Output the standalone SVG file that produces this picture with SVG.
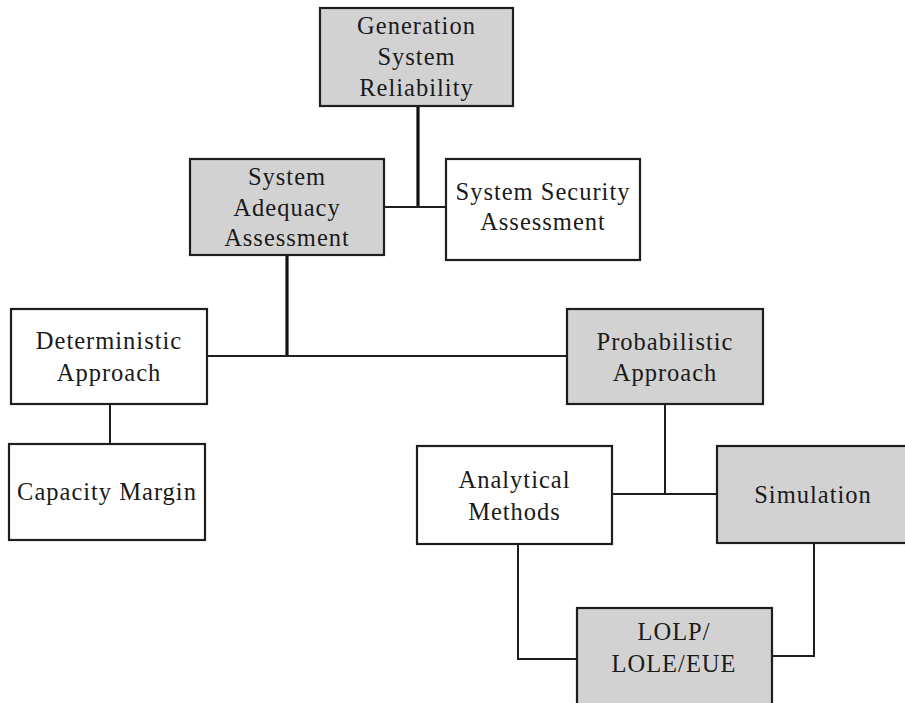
<svg xmlns="http://www.w3.org/2000/svg" width="905" height="703" viewBox="0 0 905 703">
<style>
.box{stroke:#1e1e1e;stroke-width:2.2}
.g{fill:#d3d2d3}
.w{fill:#ffffff}
text{font-family:"Liberation Serif","Times New Roman",serif;font-size:24.5px;letter-spacing:1px;fill:#1a1a1a;text-anchor:middle}
.c{fill:none;stroke:#1e1e1e;stroke-width:2}
.t{fill:none;stroke:#111;stroke-width:3.2}
</style>
<rect width="905" height="703" fill="#ffffff"/>
<g id="connectors">
<line class="t" x1="418" y1="106" x2="418" y2="208"/>
<line class="c" x1="384" y1="207" x2="446" y2="207"/>
<line class="t" x1="287" y1="255" x2="287" y2="357"/>
<line class="c" x1="207" y1="356" x2="567" y2="356"/>
<line class="c" x1="110" y1="404" x2="110" y2="444"/>
<line class="c" x1="665" y1="404" x2="665" y2="494"/>
<line class="c" x1="612" y1="494" x2="717" y2="494"/>
<polyline class="c" points="518,544 518,659 577,659"/>
<polyline class="c" points="814,543 814,656 771,656"/>
</g>
<g id="generation">
<rect class="box g" x="320" y="8" width="193" height="98"/>
<text x="416.5" y="34">Generation</text>
<text x="416.5" y="65">System</text>
<text x="416.5" y="96">Reliability</text>
</g>
<g id="adequacy">
<rect class="box g" x="190" y="159" width="194" height="96"/>
<text x="287" y="185">System</text>
<text x="287" y="216">Adequacy</text>
<text x="287" y="246">Assessment</text>
</g>
<g id="security">
<rect class="box w" x="446" y="159" width="194" height="101"/>
<text x="543" y="200">System Security</text>
<text x="543" y="230">Assessment</text>
</g>
<g id="deterministic">
<rect class="box w" x="11" y="309" width="196" height="95"/>
<text x="109" y="349">Deterministic</text>
<text x="109" y="381">Approach</text>
</g>
<g id="capacity">
<rect class="box w" x="9" y="444" width="196" height="96"/>
<text x="107" y="500">Capacity Margin</text>
</g>
<g id="probabilistic">
<rect class="box g" x="567" y="309" width="196" height="95"/>
<text x="665" y="350">Probabilistic</text>
<text x="665" y="381">Approach</text>
</g>
<g id="analytical">
<rect class="box w" x="417" y="446" width="195" height="98"/>
<text x="514.5" y="488">Analytical</text>
<text x="514.5" y="520">Methods</text>
</g>
<g id="simulation">
<rect class="box g" x="717" y="446" width="200" height="97"/>
<text x="813" y="503">Simulation</text>
</g>
<g id="lolp">
<rect class="box g" x="577" y="608" width="195" height="110"/>
<text x="674" y="640">LOLP/</text>
<text x="674" y="672">LOLE/EUE</text>
</g>
</svg>
